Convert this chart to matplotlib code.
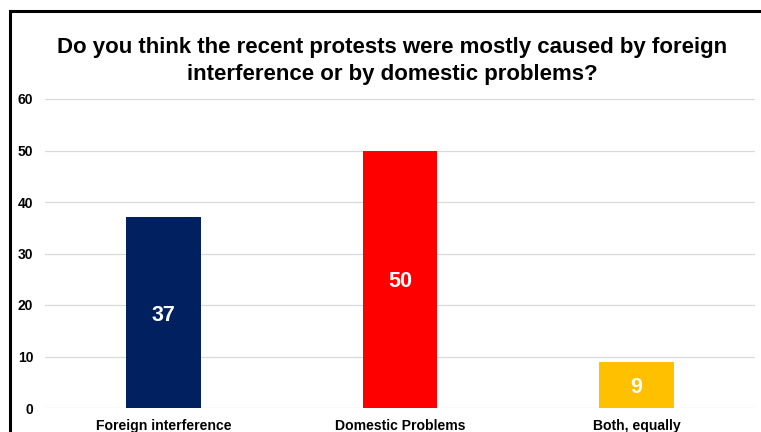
import matplotlib.pyplot as plt
from matplotlib.patches import Rectangle

plt.rcParams['font.family'] = ['Liberation Sans', 'DejaVu Sans']

categories = ["Foreign interference", "Domestic Problems", "Both, equally"]
values = [37, 50, 9]
colors = ["#002060", "#FF0000", "#FFC000"]
title = "Do you think the recent protests were mostly caused by foreign\ninterference or by domestic problems?"

fig = plt.figure(figsize=(7.61, 4.32), dpi=100)
ax = fig.add_axes([45 / 761, 24 / 432, 710 / 761, 309 / 432])

x = range(len(categories))
bars = ax.bar(x, values, width=0.316, color=colors, zorder=3)
for b, v in zip(bars, values):
    ax.text(b.get_x() + b.get_width() / 2, v / 2, str(v), ha='center', va='center_baseline',
            color='white', fontsize=15.5, fontweight='bold', zorder=4)

ax.set_xlim(-0.5, 2.5)
ax.set_ylim(0, 60)
ax.set_yticks(range(0, 61, 10))
ax.set_xticks(list(x))
ax.set_xticklabels(categories, fontsize=10.1, fontweight='bold')
ax.tick_params(axis='both', length=0)
ax.tick_params(axis='y', pad=8.5, labelsize=10)
ax.tick_params(axis='x', pad=8)
for lbl in ax.get_yticklabels():
    lbl.set_fontweight('bold')
ax.grid(axis='y', color='#D9D9D9', linewidth=0.9, zorder=0)
for s in ax.spines.values():
    s.set_visible(False)

fig.text(392 / 761, 1 - 61 / 432, title, ha='center', va='center',
         fontsize=16, fontweight='bold', linespacing=1.4)

# outer frame (cut off at right and bottom in the original)
fig.patches.append(Rectangle((10 / 761, -0.1), 1.0, 1 - 11 / 432 + 0.1,
                             transform=fig.transFigure, fill=False,
                             edgecolor='black', linewidth=2.2))

fig.savefig("out.png", dpi=100)
